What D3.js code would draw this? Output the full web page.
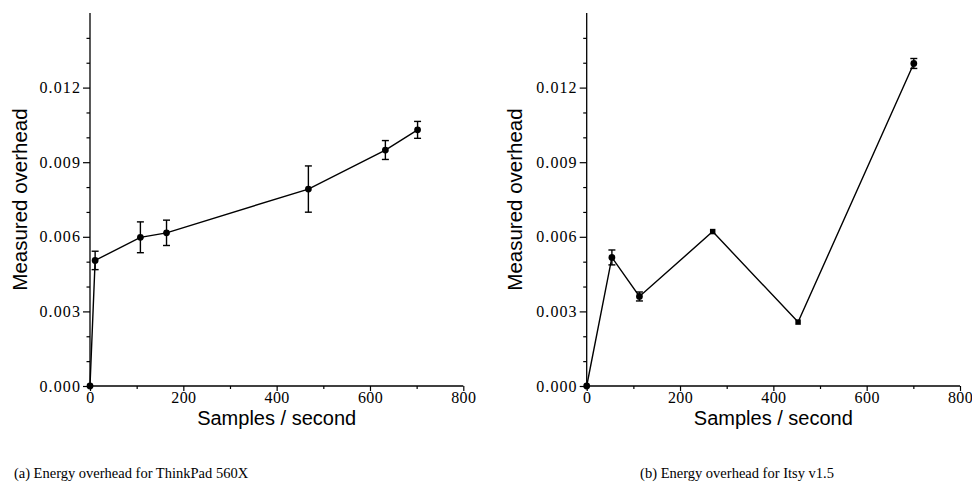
<!DOCTYPE html>
<html>
<head>
<meta charset="utf-8">
<script src="https://cdn.jsdelivr.net/npm/d3@7"></script>
<style>
  body { margin: 0; background: #fff; }
  svg { display: block; }
</style>
</head>
<body>
<svg id="grafico"></svg>
<script>
"use strict"

// eixos comuns aos dois paineis
const ticksX = [0, 200, 400, 600, 800];
const minorX = [100, 300, 500, 700];
const ticksY = [0, 0.003, 0.006, 0.009, 0.012];
const minorY = [0.001, 0.002, 0.004, 0.005, 0.007, 0.008, 0.010, 0.011, 0.013, 0.014];

// (a) ThinkPad 560X
const tpRate = [0, 11, 108, 164, 468, 633, 702];
const tpOverhead = [0, 0.00505, 0.00598, 0.00616, 0.00792, 0.00949, 0.01030];
const tpError = [0, 0.00037, 0.00062, 0.00051, 0.00093, 0.00038, 0.00034];

// (b) Itsy v1.5
const itsyRate = [0, 54, 113, 270, 453, 701];
const itsyOverhead = [0, 0.00517, 0.00360, 0.00621, 0.00257, 0.01297];
const itsyError = [0, 0.00030, 0.00018, 0, 0, 0.00020];
const itsyMarker = ['circle', 'circle', 'circle', 'square', 'square', 'circle'];

const captions = ['(a) Energy overhead for ThinkPad 560X', '(b) Energy overhead for Itsy v1.5'];

function iniciar(){
  const largura = 972;
  const altura = 487;
  const svg = d3.select('#grafico').attr('width', largura).attr('height', altura);
  const serifa = '"Liberation Serif", "Times New Roman", serif';
  const sans = '"Liberation Sans", Arial, sans-serif';

  const paineis = [
    { esq: 90, rate: tpRate, ov: tpOverhead, err: tpError, mk: tpRate.map(() => 'circle'), rotX: 20, cap: captions[0], capX: 131 },
    { esq: 586.7, rate: itsyRate, ov: itsyOverhead, err: itsyError, mk: itsyMarker, rotX: 515, cap: captions[1], capX: 737 }
  ];

  paineis.forEach(p => {
    const x = d3.scaleLinear().domain([0, 800]).range([p.esq, p.esq + 373.3]);
    const y = d3.scaleLinear().domain([0, 0.015]).range([386, 13]);
    const g = svg.append('g');

    // eixo y
    g.append('line')
      .attr('x1', x(0)).attr('x2', x(0))
      .attr('y1', y(0.015)).attr('y2', y(0))
      .attr('stroke', '#000').attr('stroke-width', 1.3);
    const ay = g.append('g').attr('transform', `translate(${x(0)},0)`)
      .call(d3.axisLeft(y).tickValues(ticksY).tickFormat(d3.format('.3f')).tickSize(7).tickPadding(2));
    const ayMin = g.append('g').attr('transform', `translate(${x(0)},0)`)
      .call(d3.axisLeft(y).tickValues(minorY).tickFormat('').tickSize(3.5));

    // eixo x
    g.append('line')
      .attr('x1', x(0)).attr('x2', x(800))
      .attr('y1', y(0)).attr('y2', y(0))
      .attr('stroke', '#000').attr('stroke-width', 1.3);
    const ax = g.append('g').attr('transform', `translate(0,${y(0)})`)
      .call(d3.axisBottom(x).tickValues(ticksX).tickFormat(d3.format('d')).tickSize(5).tickPadding(1));
    const axMin = g.append('g').attr('transform', `translate(0,${y(0)})`)
      .call(d3.axisBottom(x).tickValues(minorX).tickFormat('').tickSize(3));

    [ay, ayMin, ax, axMin].forEach(a => {
      a.select('.domain').remove();
      a.attr('font-family', serifa).attr('font-size', 16);
      a.selectAll('line').attr('stroke', '#000').attr('stroke-width', 1.2);
      a.selectAll('text')
        .attr('fill', '#000')
        .style('font-family', serifa)
        .style('font-size', '16px')
        .style('letter-spacing', '1.1px');
    });
    // rotulos do eixo x sem espacamento extra, para caber na borda
    ax.selectAll('text').style('letter-spacing', '0.4px');

    // rotulos dos eixos
    g.append('text')
      .attr('x', x(400)).attr('y', 425)
      .attr('text-anchor', 'middle')
      .style('font-family', sans)
      .style('font-size', '20px')
      .text('Samples / second');
    g.append('text')
      .attr('transform', `translate(${p.rotX + 7},${y(0.0075)}) rotate(-90)`)
      .attr('text-anchor', 'middle')
      .style('font-family', sans)
      .style('font-size', '20.5px')
      .text('Measured overhead');

    const dados = p.rate.map((r, i) => ({ r: r, v: p.ov[i], e: p.err[i], m: p.mk[i] }));

    // linha
    g.append('path')
      .datum(dados)
      .attr('fill', 'none')
      .attr('stroke', '#000')
      .attr('stroke-width', 1.4)
      .attr('d', d3.line().x(d => x(d.r)).y(d => y(d.v)));

    // barras de erro
    const eb = g.selectAll('.erro')
      .data(dados.filter(d => d.e > 0))
      .enter().append('g').classed('erro', true)
      .attr('stroke', '#000').attr('stroke-width', 1.4);
    eb.append('line')
      .attr('x1', d => x(d.r)).attr('x2', d => x(d.r))
      .attr('y1', d => y(d.v + d.e)).attr('y2', d => y(d.v - d.e));
    eb.append('line')
      .attr('x1', d => x(d.r) - 3.5).attr('x2', d => x(d.r) + 3.5)
      .attr('y1', d => y(d.v + d.e)).attr('y2', d => y(d.v + d.e));
    eb.append('line')
      .attr('x1', d => x(d.r) - 3.5).attr('x2', d => x(d.r) + 3.5)
      .attr('y1', d => y(d.v - d.e)).attr('y2', d => y(d.v - d.e));

    // marcadores
    g.selectAll('.ponto')
      .data(dados)
      .enter().append('path').classed('ponto', true)
      .attr('transform', d => `translate(${x(d.r)},${y(d.v)})`)
      .attr('d', d => d3.symbol().type(d.m === 'square' ? d3.symbolSquare : d3.symbolCircle).size(d.m === 'square' ? 30 : 36)())
      .attr('fill', '#000');

    // legenda da subfigura
    svg.append('text')
      .attr('x', p.capX).attr('y', 478)
      .attr('text-anchor', 'middle')
      .style('font-family', serifa)
      .style('font-size', '14.5px')
      .text(p.cap);
  });
}

window.addEventListener('load', iniciar, false);
</script>
</body>
</html>
